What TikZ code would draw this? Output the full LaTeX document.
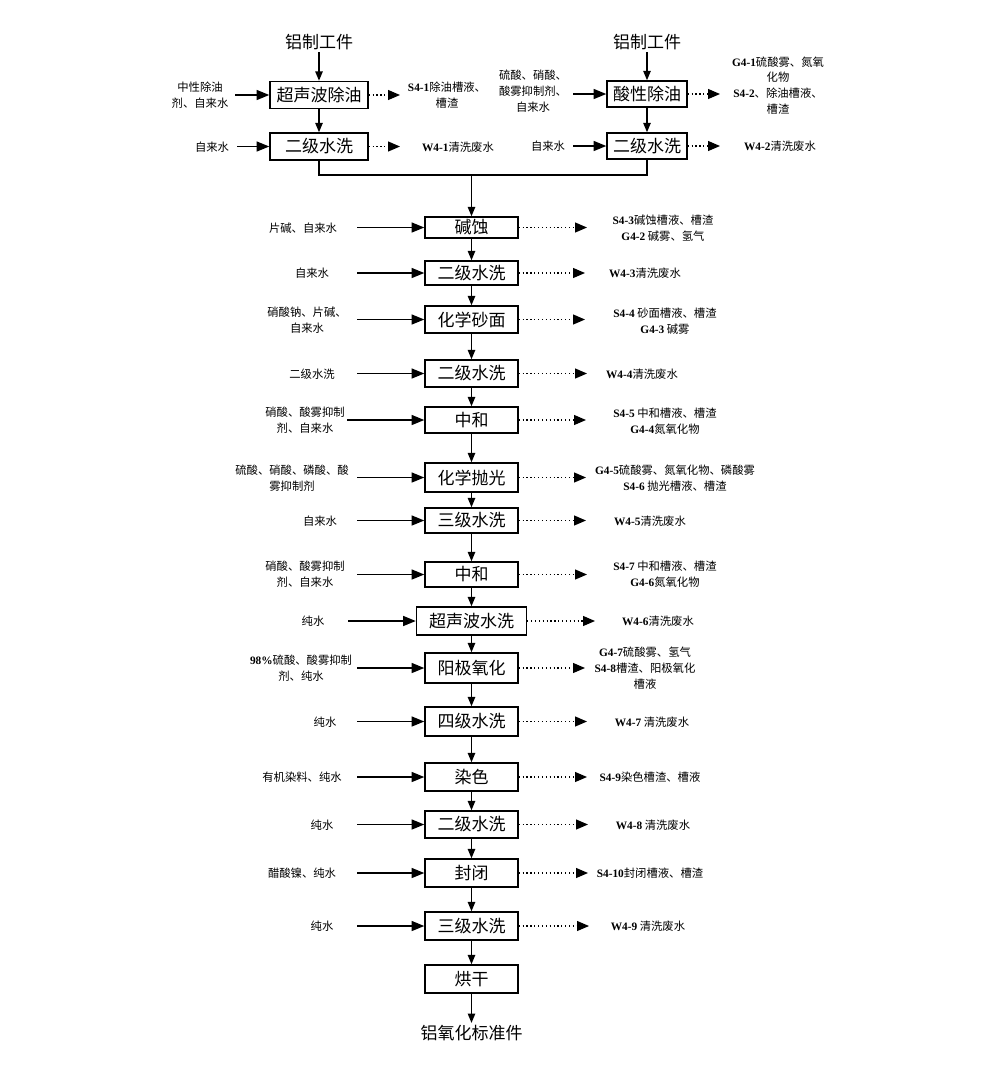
\documentclass[tikz,border=0pt]{standalone}
\usepackage{fontspec}
\setmainfont{Noto Sans CJK SC}
\newfontfamily\latfont{Liberation Serif}
\newcommand\mylat[1]{{\latfont\bfseries #1}}
\usetikzlibrary{arrows.meta}
\begin{document}
\begin{tikzpicture}[x=0.75pt,y=-0.75pt,
  bx/.style={draw,line width=1.1pt,inner sep=0pt,minimum width=69.75pt,font=\fontsize{12.75}{14}\selectfont},
  lbl/.style={inner sep=0pt,align=center,font=\fontsize{8.5}{11.8}\selectfont},
  big/.style={inner sep=1.5pt,font=\fontsize{12.75}{14}\selectfont},
  inarr/.style={line width=1.1pt,-{Triangle[length=9.5pt,width=7.5pt]}},
  varr/.style={line width=1.1pt,-{Triangle[length=7pt,width=5.5pt]}},
  outarr/.style={line width=0.9pt,dotted,-{Triangle[length=9pt,width=7.5pt]}},
  conn/.style={line width=1.1pt}]
\useasboundingbox (0,0) rectangle (1000,1076);
\fill[white] (0,0) rectangle (1000,1076);

% ---------- top left branch ----------
\node[big] (T1) at (319,42) {铝制工件};
\node[bx,minimum width=73.5pt,minimum height=20.25pt] (A1) at (319,95) {超声波除油};
\node[bx,minimum width=73.5pt,minimum height=20.25pt] (A2) at (319,146.5) {二级水洗};
\node[lbl] (iA1) at (200,95) {中性除油\\剂、自来水};
\node[lbl] (iA2) at (212,147) {自来水};
\node[lbl] (oA1) at (447,95) {\mylat{S4-1}除油槽液、\\槽渣};
\node[lbl] (oA2) at (458,147) {\mylat{W4-1}清洗废水};
\coordinate (sA1) at (235,95);
\coordinate (sA2) at (237,146.5);
\coordinate (eA1) at (400,95);
\coordinate (eA2) at (400,146.5);

% ---------- top right branch ----------
\node[big] (T2) at (647,42) {铝制工件};
\node[bx,minimum width=60pt,minimum height=19.5pt] (B1) at (647,94) {酸性除油};
\node[bx,minimum width=60pt,minimum height=19.5pt] (B2) at (647,146) {二级水洗};
\node[lbl] (iB1) at (533,91) {硫酸、硝酸、\\酸雾抑制剂、\\自来水};
\node[lbl] (iB2) at (548,146) {自来水};
\node[lbl] (oB1) at (778,85.5) {\mylat{G4-1}硫酸雾、氮氧\\化物\\\mylat{S4-2}、除油槽液、\\槽渣};
\node[lbl] (oB2) at (780,146) {\mylat{W4-2}清洗废水};
\coordinate (sB1) at (573,94);
\coordinate (sB2) at (573,146);
\coordinate (eB1) at (720,94);
\coordinate (eB2) at (720,146);

\draw[varr] (T1.south) -- (A1.north);
\draw[varr] (A1.south) -- (A2.north);
\draw[varr] (T2.south) -- (B1.north);
\draw[varr] (B1.south) -- (B2.north);
\draw[inarr] (sA1) -- (A1.west);
\draw[inarr] (sA2) -- (A2.west);
\draw[inarr] (sB1) -- (B1.west);
\draw[inarr] (sB2) -- (B2.west);
\draw[outarr] (A1.east) -- (eA1);
\draw[outarr] (A2.east) -- (eA2);
\draw[outarr] (B1.east) -- (eB1);
\draw[outarr] (B2.east) -- (eB2);

% ---------- main column ----------
\node[bx,minimum height=15.75pt] (M1) at (471.5,227.5) {碱蚀};
\node[bx,minimum height=18pt] (M2) at (471.5,273) {二级水洗};
\node[bx,minimum height=20.25pt] (M3) at (471.5,319.5) {化学砂面};
\node[bx,minimum height=20.25pt] (M4) at (471.5,373.5) {二级水洗};
\node[bx,minimum height=19.5pt] (M5) at (471.5,420) {中和};
\node[bx,minimum height=21.75pt] (M6) at (471.5,477.5) {化学抛光};
\node[bx,minimum height=18.75pt] (M7) at (471.5,520.5) {三级水洗};
\node[bx,minimum height=18.75pt] (M8) at (471.5,574.5) {中和};
\node[bx,minimum width=82.5pt,minimum height=21pt] (M9) at (471.5,621) {超声波水洗};
\node[bx,minimum height=22.5pt] (M10) at (471.5,668) {阳极氧化};
\node[bx,minimum height=21.75pt] (M11) at (471.5,721.5) {四级水洗};
\node[bx,minimum height=21pt] (M12) at (471.5,777) {染色};
\node[bx,minimum height=20.25pt] (M13) at (471.5,824.5) {二级水洗};
\node[bx,minimum height=21pt] (M14) at (471.5,873) {封闭};
\node[bx,minimum height=21pt] (M15) at (471.5,926) {三级水洗};
\node[bx,minimum height=21pt] (M16) at (471.5,979) {烘干};
\node[big] (F) at (471.5,1033) {铝氧化标准件};

% merge
\coordinate (mj) at (471.5,175);
\draw[conn] (A2.south) |- (mj);
\draw[conn] (B2.south) |- (mj);
\draw[varr] (mj) -- (M1.north);

% vertical chain
\foreach \a/\b in {M1/M2,M2/M3,M3/M4,M4/M5,M5/M6,M6/M7,M7/M8,M8/M9,M9/M10,M10/M11,M11/M12,M12/M13,M13/M14,M14/M15,M15/M16,M16/F}
  \draw[varr] (\a.south) -- (\b.north);

% input labels
\node[lbl] (i1) at (303,228) {片碱、自来水};
\node[lbl] (i2) at (312,273) {自来水};
\node[lbl] (i3) at (307,320) {硝酸钠、片碱、\\自来水};
\node[lbl] (i4) at (312,374) {二级水洗};
\node[lbl] (i5) at (305,420) {硝酸、酸雾抑制\\剂、自来水};
\node[lbl] (i6) at (292,478) {硫酸、硝酸、磷酸、酸\\雾抑制剂};
\node[lbl] (i7) at (320,521) {自来水};
\node[lbl] (i8) at (305,574.5) {硝酸、酸雾抑制\\剂、自来水};
\node[lbl] (i9) at (313,621) {纯水};
\node[lbl] (i10) at (301,668) {\mylat{98\%}硫酸、酸雾抑制\\剂、纯水};
\node[lbl] (i11) at (325,722) {纯水};
\node[lbl] (i12) at (302,777) {有机染料、纯水};
\node[lbl] (i13) at (322,825) {纯水};
\node[lbl] (i14) at (302,873) {醋酸镍、纯水};
\node[lbl] (i15) at (322,926) {纯水};

% output labels
\node[lbl] (o1) at (663,228.5) {\mylat{S4-3}碱蚀槽液、槽渣\\\mylat{G4-2} 碱雾、氢气};
\node[lbl] (o2) at (645,273) {\mylat{W4-3}清洗废水};
\node[lbl] (o3) at (665,321) {\mylat{S4-4} 砂面槽液、槽渣\\\mylat{G4-3} 碱雾};
\node[lbl] (o4) at (642,374) {\mylat{W4-4}清洗废水};
\node[lbl] (o5) at (665,421) {\mylat{S4-5} 中和槽液、槽渣\\\mylat{G4-4}氮氧化物};
\node[lbl] (o6) at (675,478) {\mylat{G4-5}硫酸雾、氮氧化物、磷酸雾\\\mylat{S4-6} 抛光槽液、槽渣};
\node[lbl] (o7) at (650,521) {\mylat{W4-5}清洗废水};
\node[lbl] (o8) at (665,574.5) {\mylat{S4-7} 中和槽液、槽渣\\\mylat{G4-6}氮氧化物};
\node[lbl] (o9) at (658,621) {\mylat{W4-6}清洗废水};
\node[lbl] (o10) at (645,668) {\mylat{G4-7}硫酸雾、氢气\\\mylat{S4-8}槽渣、阳极氧化\\槽液};
\node[lbl] (o11) at (652,722) {\mylat{W4-7} 清洗废水};
\node[lbl] (o12) at (650,777) {\mylat{S4-9}染色槽渣、槽液};
\node[lbl] (o13) at (653,825) {\mylat{W4-8} 清洗废水};
\node[lbl] (o14) at (650,873) {\mylat{S4-10}封闭槽液、槽渣};
\node[lbl] (o15) at (648,926) {\mylat{W4-9} 清洗废水};

% input arrows and output dotted arrows
\foreach \n/\ys/\xs/\xe in {1/227.5/357/587, 2/273/357/585, 3/319.5/357/585, 4/373.5/357/587,
  5/420/347/586, 6/477.5/357/586, 7/520.5/357/586, 8/574.5/357/587, 9/621/348/595,
  10/668/357/585, 11/721.5/357/587, 12/777/357/587, 13/824.5/357/588, 14/873/357/588, 15/926/357/589}{
  \coordinate (s\n) at (\xs,\ys);
  \coordinate (e\n) at (\xe,\ys);
  \draw[inarr] (s\n) -- (M\n.west);
  \draw[outarr] (M\n.east) -- (e\n);
}
\end{tikzpicture}
\end{document}
